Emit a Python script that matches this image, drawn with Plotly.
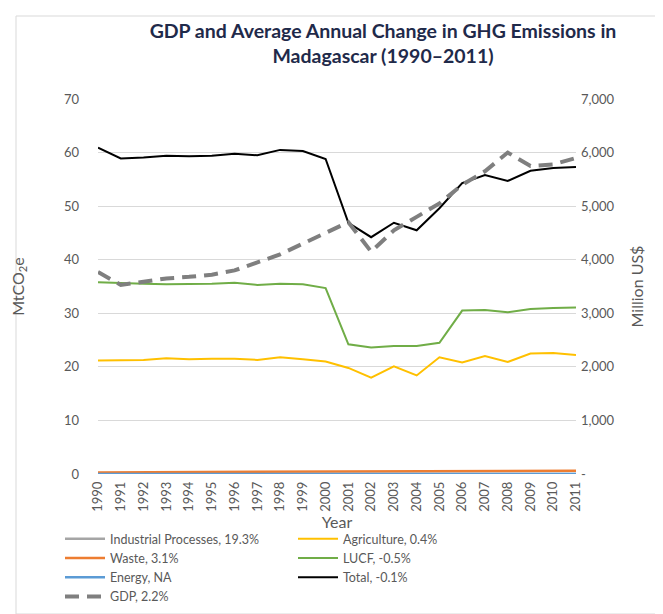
import plotly.graph_objects as go

years = [str(y) for y in range(1990, 2012)]

industrial = [0.01] * 22
agriculture = [21.2, 21.2, 21.3, 21.6, 21.4, 21.5, 21.5, 21.3, 21.8, 21.4, 21.0,
               19.8, 18.0, 20.1, 18.4, 21.8, 20.8, 22.0, 20.9, 22.5, 22.6, 22.2]
waste = [0.30, 0.31, 0.32, 0.33, 0.34, 0.35, 0.36, 0.37, 0.38, 0.39, 0.40,
         0.41, 0.43, 0.45, 0.46, 0.48, 0.50, 0.52, 0.54, 0.56, 0.58, 0.60]
lucf = [35.8, 35.6, 35.5, 35.4, 35.4, 35.5, 35.7, 35.3, 35.5, 35.4, 34.7,
        24.2, 23.6, 23.9, 23.9, 24.5, 30.5, 30.6, 30.2, 30.8, 31.0, 31.1]
energy = [0.0] * 22
total = [60.9, 58.9, 59.1, 59.4, 59.3, 59.4, 59.8, 59.5, 60.5, 60.3, 58.8,
         46.9, 44.2, 46.9, 45.5, 49.6, 54.3, 55.8, 54.7, 56.6, 57.1, 57.3]
gdp = [3770, 3530, 3590, 3650, 3680, 3720, 3800, 3950, 4100, 4300, 4500,
       4700, 4150, 4550, 4800, 5050, 5400, 5650, 6000, 5750, 5780, 5900]

left_ticks = [0, 10, 20, 30, 40, 50, 60, 70]
right_tickvals = [0, 1000, 2000, 3000, 4000, 5000, 6000, 7000]
right_ticktext = ["-", "1,000", "2,000", "3,000", "4,000", "5,000", "6,000", "7,000"]

names = ["Industrial Processes, 19.3%", "Agriculture, 0.4%", "Waste, 3.1%",
         "LUCF, -0.5%", "Energy, NA", "Total, -0.1%", "GDP, 2.2%"]

FONT = "Lato, 'Open Sans', sans-serif"
GRAY = "#595959"

fig = go.Figure()
series = [
    (industrial, names[0], "#A5A5A5", 2.5),
    (agriculture, names[1], "#FFC000", 2),
    (waste, names[2], "#ED7D31", 2.5),
    (lucf, names[3], "#70AD47", 2),
    (energy, names[4], "#5B9BD5", 2.5),
    (total, names[5], "#000000", 2),
]
for vals, nm, col, w in series:
    fig.add_trace(go.Scatter(x=years, y=vals, name=nm, mode="lines",
                             line=dict(color=col, width=w), yaxis="y"))
fig.add_trace(go.Scatter(x=years, y=gdp, name=names[6], mode="lines",
                         line=dict(color="#7F7F7F", width=4, dash="14px,8px"),
                         yaxis="y2"))

L, R, T, B = 90, 95, 91, 148
W, H = 663, 614
pw, ph = W - L - R, H - T - B

def px_x(p):
    return (p - L) / pw

def px_y(p):
    return (H - B - p) / ph

fig.update_layout(
    width=W, height=H,
    margin=dict(l=L, r=R, t=T, b=B, autoexpand=False),
    paper_bgcolor="white", plot_bgcolor="white",
    font=dict(family=FONT, color=GRAY, size=12),
    title=dict(text="<b>GDP and Average Annual Change in GHG Emissions in<br>Madagascar (1990–2011)</b>",
               x=375 / W, xanchor="center", y=1 - 30 / H, yanchor="top",
               font=dict(family=FONT, size=19.5, color="#1F2A4A")),
    xaxis=dict(type="category", tickangle=-90, showgrid=False, showline=False,
               ticks="", tickfont=dict(size=13, color=GRAY), ticklabelstandoff=4,
               title=dict(text="Year", font=dict(size=16, color=GRAY), standoff=2)),
    yaxis=dict(range=[0, 70], tickvals=left_ticks, showgrid=True,
               gridcolor="#D9D9D9", gridwidth=1, zeroline=False, showline=False,
               ticks="", tickfont=dict(size=13, color=GRAY), ticklabelstandoff=18,
               title=dict(text="MtCO<sub>2</sub>e", font=dict(size=16, color=GRAY), standoff=36)),
    yaxis2=dict(range=[0, 7000], overlaying="y", side="right",
                tickvals=right_tickvals, ticktext=right_ticktext, showgrid=False,
                zeroline=False, showline=False, ticks="", ticklabelstandoff=4,
                tickfont=dict(size=13, color=GRAY),
                title=dict(text="Million US$", font=dict(size=16, color=GRAY), standoff=18)),
    legend=dict(orientation="h", x=px_x(52), xanchor="left", y=px_y(516), yanchor="top",
                entrywidth=178, entrywidthmode="pixels", traceorder="normal",
                font=dict(size=12.5, color=GRAY), tracegroupgap=0,
                itemwidth=40),
    showlegend=True,
    shapes=[dict(type="rect", xref="paper", yref="paper",
                 x0=px_x(8), x1=px_x(656), y0=px_y(606), y1=px_y(8),
                 line=dict(color="#D9D9D9", width=1), layer="below")],
)

fig.write_html("out.html")
